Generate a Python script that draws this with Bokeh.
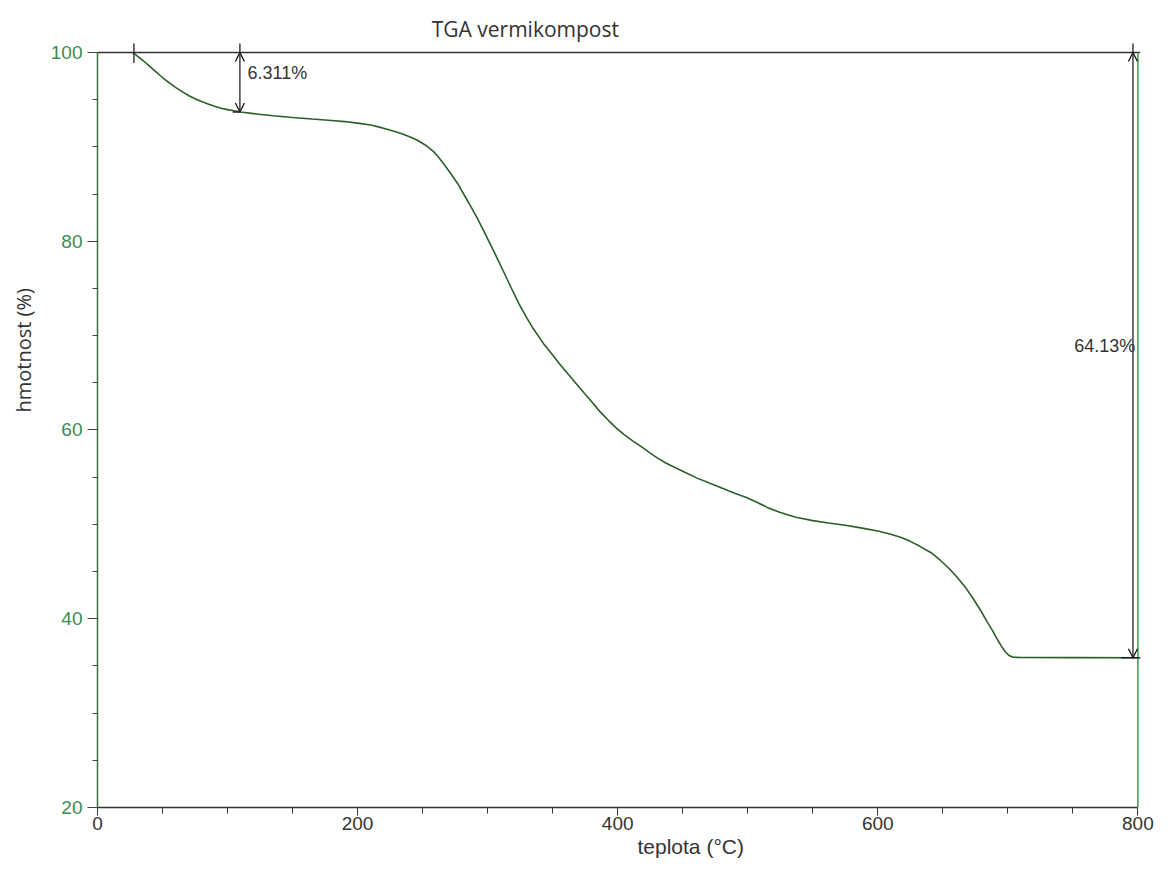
from bokeh.plotting import figure
from bokeh.models import (Range1d, FixedTicker, Label, Arrow, OpenHead, Span, Title)
from bokeh.embed import file_html
from bokeh.resources import INLINE

# ---- data ----
temperature = [27, 30, 35, 40, 45, 50, 55, 60, 65, 70, 75, 80, 85, 90, 95, 100, 105, 110,
               120, 135, 150, 165, 180, 190, 200, 210, 216, 222, 228, 234, 240, 246, 252,
               258, 262, 267, 272, 277, 282, 287, 292, 297, 302, 307, 312, 318, 324, 330,
               335, 343, 350, 355, 362, 368, 374, 380, 386, 393, 399, 405, 412, 419, 425,
               431, 437, 444, 452, 461, 470, 480, 490, 499, 507, 515, 525, 537, 550, 562,
               575, 588, 600, 610, 618, 625, 632, 641, 648, 655, 661, 667, 673, 679, 684,
               688, 692, 695, 698, 701, 704, 710, 750, 800]
mass = [100.0, 99.7, 99.15, 98.55, 97.95, 97.35, 96.8, 96.3, 95.85, 95.45, 95.1, 94.8,
        94.55, 94.3, 94.1, 93.95, 93.82, 93.7, 93.52, 93.3, 93.12, 92.95, 92.8, 92.68,
        92.52, 92.32, 92.12, 91.9, 91.66, 91.4, 91.08, 90.7, 90.2, 89.55, 88.95, 88.05,
        87.1, 86.1, 84.9, 83.7, 82.45, 81.1, 79.7, 78.3, 76.85, 75.1, 73.4, 71.9, 70.75,
        69.15, 67.95, 67.05, 65.9, 64.93, 63.95, 63.0, 62.0, 61.0, 60.2, 59.5, 58.8, 58.15,
        57.55, 57.0, 56.5, 56.03, 55.5, 54.9, 54.4, 53.85, 53.3, 52.85, 52.35, 51.8, 51.25,
        50.75, 50.4, 50.15, 49.9, 49.6, 49.3, 48.95, 48.6, 48.2, 47.7, 47.0, 46.2, 45.3,
        44.4, 43.4, 42.2, 40.9, 39.7, 38.8, 37.8, 37.1, 36.5, 36.1, 35.92, 35.9, 35.88,
        35.87]

x_ticks = [0, 200, 400, 600, 800]
y_ticks = [20, 40, 60, 80, 100]
x_minor = list(range(0, 801, 50))
y_minor = list(range(20, 101, 5))

title_text = "TGA vermikompost"
x_label_text = "teplota (°C)"
y_label_text = "hmotnost (%)"

start_temp = 28
step1_temp = 109.5
step1_loss = 6.311
total_temp = 796.2
total_loss = 64.13
residue = 100 - total_loss

# ---- figure ----
p = figure(width=1154, height=863, output_backend="svg", toolbar_location=None,
           x_range=Range1d(0, 802), y_range=Range1d(20, 104.45),
           min_border_left=95, min_border_right=14, min_border_top=10, min_border_bottom=56)
p.outline_line_color = None
p.xgrid.visible = False
p.ygrid.visible = False
p.background_fill_color = "white"
p.border_fill_color = "white"

xa = p.xaxis[0]
xa.ticker = FixedTicker(ticks=x_ticks, minor_ticks=x_minor)
xa.bounds = (0, 800)
xa.axis_line_color = "#333333"
xa.axis_line_width = 1.3
xa.major_tick_line_color = "#333333"
xa.minor_tick_line_color = "#333333"
xa.major_tick_out = 8
xa.major_tick_in = 0
xa.minor_tick_out = 6
xa.minor_tick_in = 0
xa.major_label_text_font = "Liberation Sans"
xa.major_label_text_font_size = "19px"
xa.major_label_text_color = "#333333"
xa.major_label_standoff = 1

ya = p.yaxis[0]
ya.ticker = FixedTicker(ticks=y_ticks, minor_ticks=y_minor)
ya.bounds = (20, 100)
ya.axis_line_color = "#3f6f3f"
ya.axis_line_width = 1.5
ya.major_tick_line_color = "#3a4a3a"
ya.minor_tick_line_color = "#3a4a3a"
ya.major_tick_out = 10
ya.major_tick_in = 0
ya.minor_tick_out = 5
ya.minor_tick_in = 0
ya.major_label_text_font = "Liberation Sans"
ya.major_label_text_font_size = "19px"
ya.major_label_text_color = "#3d8b50"
ya.major_label_standoff = 5

# axis titles as side titles
p.add_layout(Title(text=y_label_text, align="left", offset=395, vertical_align="top",
                   standoff=18, text_font="Open Sans", text_font_size="20px",
                   text_font_style="normal", text_color="#333333"), "left")
p.add_layout(Title(text=x_label_text, align="left", offset=540, vertical_align="bottom",
                   standoff=0, text_font="Liberation Sans", text_font_size="21px",
                   text_font_style="normal", text_color="#333333"), "below")

# reference lines
p.add_layout(Span(location=100, dimension="width", line_color="#333333", line_width=1.5))
p.add_layout(Arrow(x_start=800, y_start=20, x_end=800, y_end=100, start=None, end=None,
                   line_color="#4a9e5c", line_width=1.6))

# curve
p.line(temperature, mass, line_color="#2a5e2a", line_width=1.6)

# residue horizontal marker at right
p.add_layout(Arrow(x_start=787, y_start=residue, x_end=802, y_end=residue,
                   start=None, end=None, line_color="#222222", line_width=1.3))

# start marker
p.add_layout(Arrow(x_start=start_temp, y_start=100.95, x_end=start_temp, y_end=98.9,
                   start=None, end=None, line_color="#222222", line_width=1.3))

# step 1 arrow
p.add_layout(Arrow(x_start=step1_temp, y_start=100.95, x_end=step1_temp, y_end=100,
                   start=None, end=None, line_color="#222222", line_width=1.3))
p.add_layout(Arrow(x_start=step1_temp, y_start=100, x_end=step1_temp, y_end=100 - step1_loss,
                   start=OpenHead(size=9, line_color="#111111", line_width=1.3),
                   end=OpenHead(size=9, line_color="#111111", line_width=1.3),
                   line_color="#222222", line_width=1.3))
p.add_layout(Arrow(x_start=step1_temp - 5.5, y_start=100 - step1_loss, x_end=step1_temp,
                   y_end=100 - step1_loss, start=None, end=None,
                   line_color="#222222", line_width=1.5))

# total arrow
p.add_layout(Arrow(x_start=total_temp, y_start=100.95, x_end=total_temp, y_end=100,
                   start=None, end=None, line_color="#222222", line_width=1.3))
p.add_layout(Arrow(x_start=total_temp, y_start=100, x_end=total_temp, y_end=residue,
                   start=OpenHead(size=9, line_color="#111111", line_width=1.3),
                   end=OpenHead(size=9, line_color="#111111", line_width=1.3),
                   line_color="#222222", line_width=1.3))

# annotation texts
p.add_layout(Label(x=step1_temp + 5.8, y=97.8, text=f"{step1_loss}%",
                   text_font="Liberation Sans", text_font_size="18px",
                   text_color="#333333", text_baseline="middle", text_align="left"))
p.add_layout(Label(x=798, y=68.95, text=f"{total_loss}%",
                   text_font="Liberation Sans", text_font_size="18px",
                   text_color="#333333", text_baseline="middle", text_align="right"))

# chart title (inside the extended frame, above the 100 % line)
p.add_layout(Label(x=329, y=102.54, text=title_text, text_font="Open Sans",
                   text_font_size="21px", text_color="#333333",
                   text_align="center", text_baseline="alphabetic"))

open("out.html", "w").write(file_html(p, INLINE))
